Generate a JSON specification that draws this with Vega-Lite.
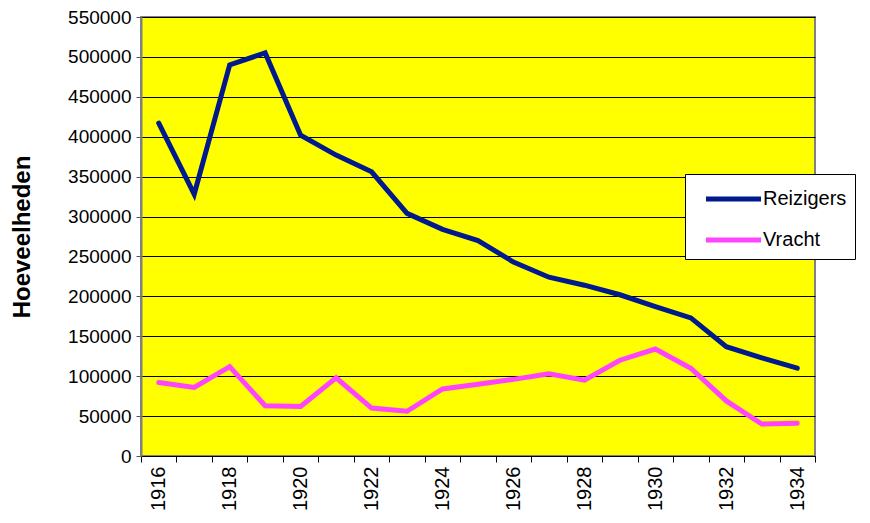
{
  "$schema": "https://vega.github.io/schema/vega-lite/v6.json",
  "autosize": {"type": "none"},
  "padding": {"left": 141, "top": 17, "right": 55, "bottom": 67},
  "width": 674,
  "height": 439,
  "background": "white",
  "config": {
    "font": "Liberation Sans",
    "view": {"fill": "#FFFF00", "stroke": "#808080", "strokeWidth": 2}
  },
  "data": {
    "values": [
      {"year": 1916, "serie": "Reizigers", "value": 417000},
      {"year": 1917, "serie": "Reizigers", "value": 328000},
      {"year": 1918, "serie": "Reizigers", "value": 490000},
      {"year": 1919, "serie": "Reizigers", "value": 505000},
      {"year": 1920, "serie": "Reizigers", "value": 402000},
      {"year": 1921, "serie": "Reizigers", "value": 377000},
      {"year": 1922, "serie": "Reizigers", "value": 356000},
      {"year": 1923, "serie": "Reizigers", "value": 304000},
      {"year": 1924, "serie": "Reizigers", "value": 284000},
      {"year": 1925, "serie": "Reizigers", "value": 270000},
      {"year": 1926, "serie": "Reizigers", "value": 243000},
      {"year": 1927, "serie": "Reizigers", "value": 224000},
      {"year": 1928, "serie": "Reizigers", "value": 214000},
      {"year": 1929, "serie": "Reizigers", "value": 202000},
      {"year": 1930, "serie": "Reizigers", "value": 187000},
      {"year": 1931, "serie": "Reizigers", "value": 173000},
      {"year": 1932, "serie": "Reizigers", "value": 137000},
      {"year": 1933, "serie": "Reizigers", "value": 123000},
      {"year": 1934, "serie": "Reizigers", "value": 110000},
      {"year": 1916, "serie": "Vracht", "value": 92000},
      {"year": 1917, "serie": "Vracht", "value": 86000},
      {"year": 1918, "serie": "Vracht", "value": 112000},
      {"year": 1919, "serie": "Vracht", "value": 63000},
      {"year": 1920, "serie": "Vracht", "value": 62000},
      {"year": 1921, "serie": "Vracht", "value": 98000},
      {"year": 1922, "serie": "Vracht", "value": 60000},
      {"year": 1923, "serie": "Vracht", "value": 56000},
      {"year": 1924, "serie": "Vracht", "value": 84000},
      {"year": 1925, "serie": "Vracht", "value": 90000},
      {"year": 1926, "serie": "Vracht", "value": 96000},
      {"year": 1927, "serie": "Vracht", "value": 103000},
      {"year": 1928, "serie": "Vracht", "value": 95000},
      {"year": 1929, "serie": "Vracht", "value": 120000},
      {"year": 1930, "serie": "Vracht", "value": 134000},
      {"year": 1931, "serie": "Vracht", "value": 110000},
      {"year": 1932, "serie": "Vracht", "value": 69000},
      {"year": 1933, "serie": "Vracht", "value": 40000},
      {"year": 1934, "serie": "Vracht", "value": 41000}
    ]
  },
  "mark": {"type": "line", "strokeWidth": 5, "strokeJoin": "miter", "strokeCap": "round"},
  "encoding": {
    "x": {
      "field": "year",
      "type": "quantitative",
      "scale": {"domain": [1915.5, 1934.5], "nice": false, "zero": false},
      "axis": {
        "title": null,
        "grid": false,
        "values": [1915.5, 1916, 1916.5, 1917.5, 1918, 1918.5, 1919.5, 1920, 1920.5, 1921.5, 1922, 1922.5, 1923.5, 1924, 1924.5, 1925.5, 1926, 1926.5, 1927.5, 1928, 1928.5, 1929.5, 1930, 1930.5, 1931.5, 1932, 1932.5, 1933.5, 1934, 1934.5],
        "labelExpr": "datum.value % 2 === 0 ? format(datum.value, 'd') : ''",
        "tickOpacity": {"condition": {"test": "datum.value % 1 !== 0", "value": 1}, "value": 0},
        "labelAngle": -90,
        "labelAlign": "right",
        "labelBaseline": "middle",
        "labelFontSize": 20,
        "labelColor": "black",
        "labelOverlap": false,
        "labelPadding": 4,
        "tickSize": 6,
        "tickColor": "black",
        "domainColor": "black",
        "labelFlush": false
      }
    },
    "y": {
      "field": "value",
      "type": "quantitative",
      "scale": {"domain": [0, 550000], "nice": false},
      "axis": {
        "title": "Hoeveelheden",
        "titleFontSize": 24,
        "titleFontWeight": "bold",
        "titleColor": "black",
        "titlePadding": 33,
        "values": [0, 50000, 100000, 150000, 200000, 250000, 300000, 350000, 400000, 450000, 500000, 550000],
        "format": "d",
        "labelFontSize": 19,
        "labelColor": "black",
        "labelPadding": 5,
        "tickSize": 5,
        "tickColor": "#555555",
        "domainColor": "#808080",
        "domainWidth": 2,
        "gridColor": "black",
        "gridWidth": 1,
        "gridOpacity": 1
      }
    },
    "color": {
      "field": "serie",
      "type": "nominal",
      "scale": {"domain": ["Reizigers", "Vracht"], "range": ["#00198C", "#FF44FF"]},
      "legend": {
        "title": null,
        "orient": "none",
        "legendX": 544,
        "legendY": 157,
        "fillColor": "white",
        "strokeColor": "black",
        "padding": 8.5,
        "symbolType": "M-2,0H2",
        "symbolSize": 756,
        "symbolStrokeWidth": 5,
        "symbolOffset": 23.5,
        "labelFontSize": 20,
        "labelColor": "black",
        "labelOffset": 13,
        "rowPadding": 14,
        "labelLimit": 300
      }
    }
  }
}
